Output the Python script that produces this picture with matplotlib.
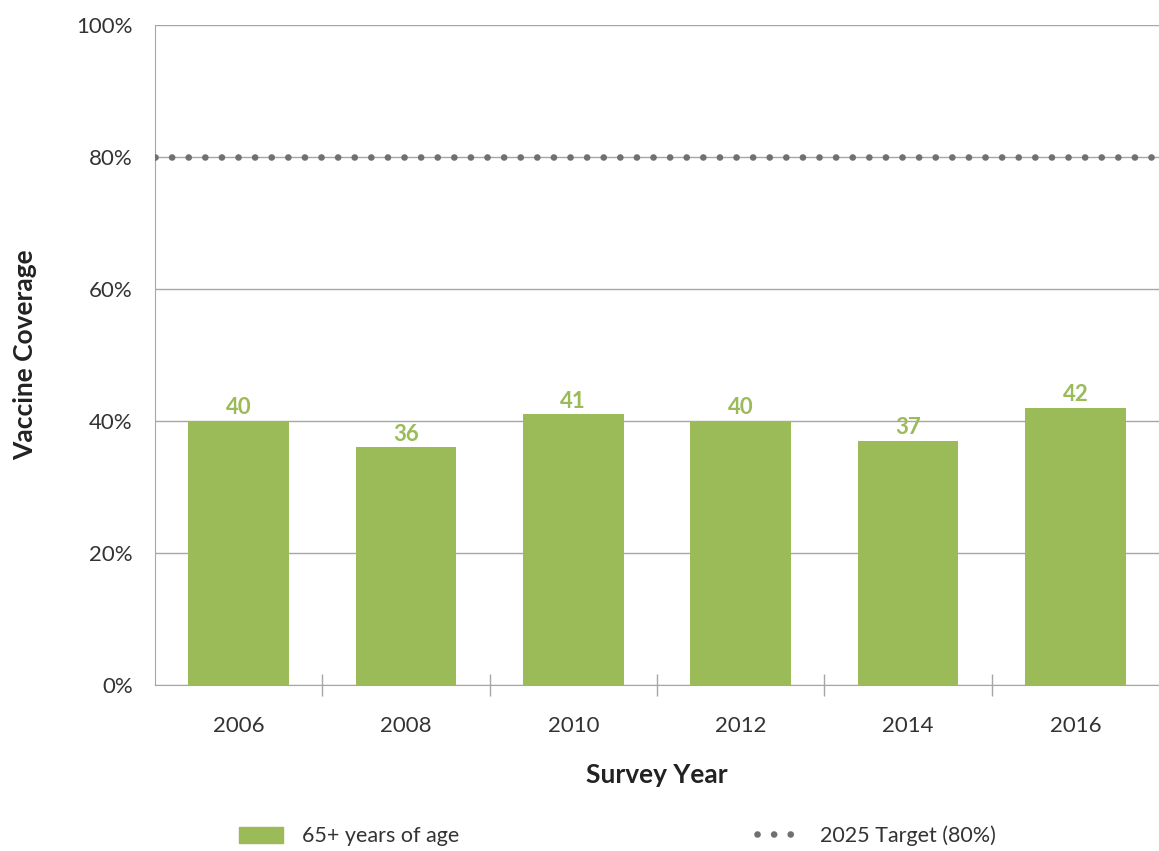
import matplotlib.pyplot as plt
from matplotlib.patches import Patch
from matplotlib.lines import Line2D

plt.rcParams['font.family'] = ['Lato', 'DejaVu Sans']

years = ['2006', '2008', '2010', '2012', '2014', '2016']
coverage = [40, 36, 41, 40, 37, 42]
target = 80
bar_label = '65+ years of age'
target_label = '2025 Target (80%)'

green = '#9bbb59'
dot_grey = '#707070'
grid_grey = '#a6a6a6'

fig = plt.figure(figsize=(11.59, 8.51), dpi=100)
ax = fig.add_axes([0.1337, 0.195, 0.8663, 0.7756])

x = list(range(len(years)))
ax.bar(x, coverage, width=0.6, color=green, zorder=3)
for xi, v in zip(x, coverage):
    ax.text(xi, v + 0.4, str(v), ha='center', va='bottom', color=green,
            fontsize=16, fontweight='bold', zorder=4)

# target line: light grid line with grey dots on top
dot_style = (0, (0.01, 2.48))
ax.axhline(target, color=dot_grey, lw=4.8, linestyle=dot_style,
           dash_capstyle='round', zorder=4)

ax.set_xlim(-0.5, len(years) - 0.5)
ax.set_ylim(0, 100)
ax.set_yticks(range(0, 101, 20))
ax.set_yticklabels([f'{v}%' for v in range(0, 101, 20)], fontsize=16, color='#333333')
ax.yaxis.grid(True, color=grid_grey, lw=1, zorder=0)
ax.tick_params(axis='y', length=0, pad=16)

ax.set_xticks(x)
ax.set_xticklabels(years, fontsize=16, color='#333333')
ax.tick_params(axis='x', length=0, pad=22)
ax.set_xticks([i + 0.5 for i in x[:-1]], minor=True)
ax.tick_params(axis='x', which='minor', length=16, width=1, color=grid_grey, direction='inout')

for side in ['top', 'right']:
    ax.spines[side].set_visible(False)
for side in ['left', 'bottom']:
    ax.spines[side].set_color(grid_grey)

ax.set_xlabel('Survey Year', fontsize=19, fontweight='bold', color='#222222', labelpad=20)
ax.set_ylabel('Vaccine Coverage', fontsize=19, fontweight='bold', color='#222222', labelpad=28)

handles = [Patch(color=green, label=bar_label),
           Line2D([0], [0], color=dot_grey, lw=4.8, linestyle=dot_style,
                  dash_capstyle='round', label=target_label)]
fig.legend(handles=handles, loc='center left', bbox_to_anchor=(0.1967, 0.0176), ncol=2,
           frameon=False, fontsize=15.5, handlelength=2.05, handleheight=0.8,
           borderpad=0, columnspacing=13.8, handletextpad=0.9, labelcolor='#333333')

fig.savefig('out.png', dpi=100)
